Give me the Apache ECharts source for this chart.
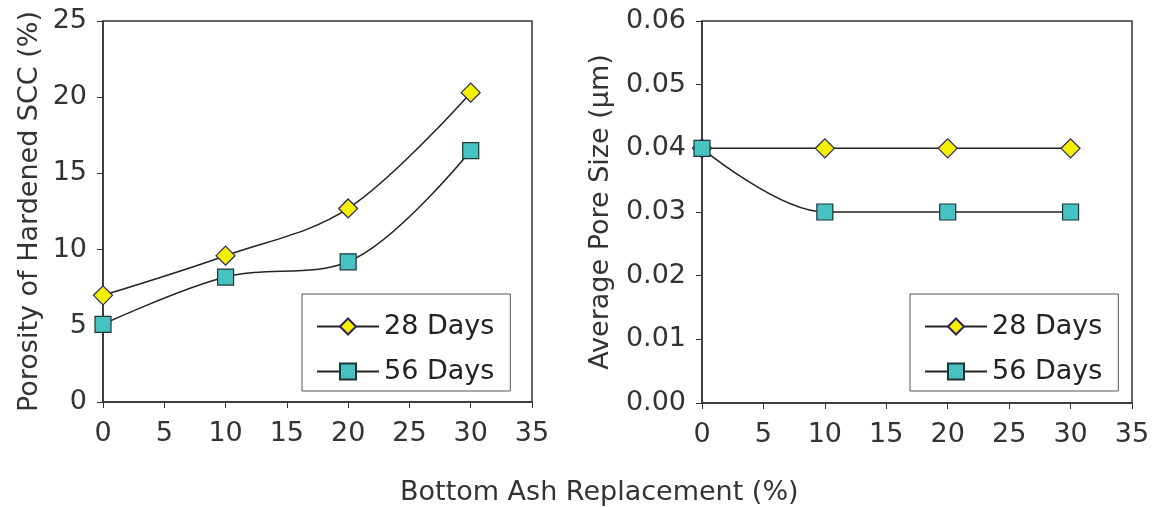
<!DOCTYPE html>
<html style="height: 100%">
<head>
  <meta charset="utf-8">
  <title>porosity</title>
</head>
<body style="height: 100%; margin: 0; background: #fff">
<div id="container" style="width: 1160px; height: 507px"></div>
<script src="https://cdn.jsdelivr.net/npm/echarts@6/dist/echarts.min.js"></script>
<script>
  var replacement = [0, 10, 20, 30];
  var porosity28 = [7.0, 9.6, 12.7, 20.3];
  var porosity56 = [5.1, 8.2, 9.2, 16.5];
  var pore28 = [0.04, 0.04, 0.04, 0.04];
  var pore56 = [0.04, 0.03, 0.03, 0.03];
  var seriesNames = ['28 Days', '56 Days'];

  var font = 'DejaVu Sans';
  var ink = '#333';

  function pairs(ys) {
    return replacement.map(function (x, i) { return [x, ys[i]]; });
  }

  function xAxis(idx) {
    return {
      gridIndex: idx, type: 'value', min: 0, max: 35, interval: 5,
      axisLine: { lineStyle: { color: ink, width: 1.5 } },
      axisTick: { length: 6, lineStyle: { color: ink } },
      axisLabel: { color: '#333', fontFamily: font, fontSize: 27, margin: 18 },
      splitLine: { show: false }
    };
  }

  function yAxis(idx, max, step, decimals, name) {
    return {
      gridIndex: idx, type: 'value', min: 0, max: max, interval: step,
      name: name, nameLocation: 'middle', nameGap: idx === 0 ? 60 : 88,
      nameTextStyle: { color: '#333', fontFamily: font, fontSize: 27 },
      axisLine: { lineStyle: { color: ink, width: 1.5 } },
      axisTick: { length: 6, lineStyle: { color: ink } },
      axisLabel: {
        color: '#333', fontFamily: font, fontSize: 27, margin: 16,
        formatter: function (v) { return v.toFixed(decimals); }
      },
      splitLine: { show: false }
    };
  }

  var diamondStyle = { color: '#f4f000', borderColor: '#2a2466', borderWidth: 1.2 };
  var squareStyle = { color: '#47c2c2', borderColor: '#1f3434', borderWidth: 1.2 };

  function line(name, idx, ys, symbol, size, style) {
    return {
      name: name, type: 'line', xAxisIndex: idx, yAxisIndex: idx,
      data: pairs(ys), smooth: 0.35,
      symbol: symbol, symbolSize: size, showSymbol: true,
      lineStyle: { color: '#222', width: 1.5 },
      itemStyle: style
    };
  }

  function legend(left) {
    return {
      data: seriesNames, orient: 'vertical', left: left, top: 294,
      itemWidth: 62, itemHeight: 20, itemGap: 18,
      padding: [19, 16, 6, 14],
      borderColor: '#555', borderWidth: 1,
      textStyle: { color: '#222', fontFamily: font, fontSize: 27 }
    };
  }

  var chart = echarts.init(document.getElementById('container'));
  chart.setOption({
    animation: false,
    grid: [
      { left: 103, top: 21, width: 429, height: 381, show: true, borderColor: ink, borderWidth: 1.5 },
      { left: 702, top: 21, width: 430, height: 382, show: true, borderColor: ink, borderWidth: 1.5 }
    ],
    title: {
      text: 'Bottom Ash Replacement (%)', left: 395, top: 474,
      textStyle: { color: '#333', fontFamily: font, fontSize: 27, fontWeight: 'normal' }
    },
    legend: [legend(302), legend(910)],
    xAxis: [xAxis(0), xAxis(1)],
    yAxis: [
      yAxis(0, 25, 5, 0, 'Porosity of Hardened SCC (%)'),
      yAxis(1, 0.06, 0.01, 2, 'Average Pore Size (\u00b5m)')
    ],
    series: [
      line(seriesNames[0], 0, porosity28, 'diamond', [19, 19], diamondStyle),
      line(seriesNames[1], 0, porosity56, 'rect', 16, squareStyle),
      line(seriesNames[0], 1, pore28, 'diamond', [19, 19], diamondStyle),
      line(seriesNames[1], 1, pore56, 'rect', 16, squareStyle)
    ]
  });
</script>
</body>
</html>
